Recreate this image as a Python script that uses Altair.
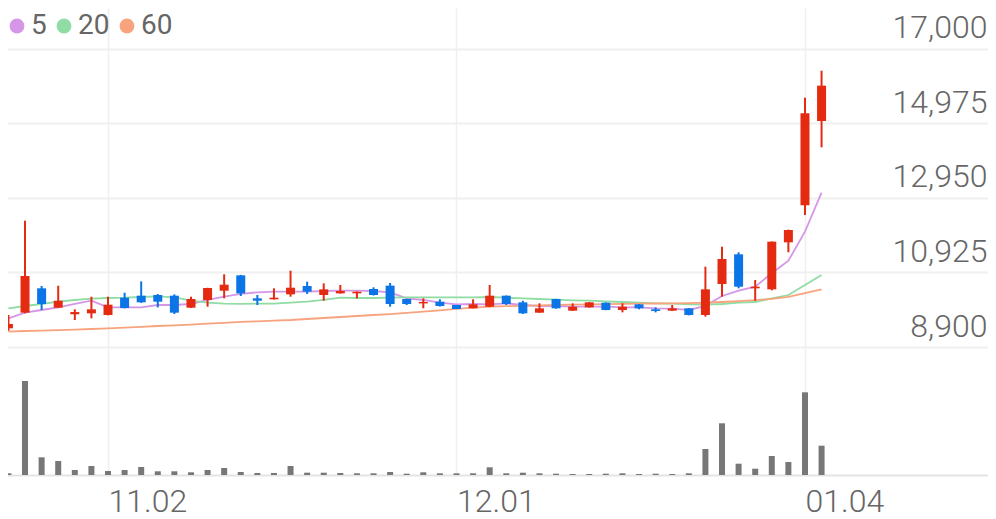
import altair as alt
import pandas as pd

# ---- data ----
idx = list(range(50))
opens = [9408, 9833, 10495, 9968, 9790, 9815, 9770, 10240, 10295, 10313,
         10295, 9968, 10178, 10430, 10848, 10223, 10196, 10331, 10558, 10313,
         10358, 10358, 10476, 10567, 10205, 10085, 10132, 10042, 9951, 9995,
         10295, 10114, 9833, 10205, 9887, 9978, 10105, 9906, 10060, 9924,
         9887, 9951, 9770, 10612, 11419, 10495, 10467, 11745, 12751, 15043]
highs = [9770, 12333, 10558, 10566, 9924, 10267, 10267, 10376, 10683, 10340,
         10331, 10267, 10510, 10876, 10860, 10313, 10495, 10974, 10675, 10630,
         10585, 10410, 10522, 10640, 10210, 10223, 10196, 10045, 10196, 10585,
         10300, 10158, 10087, 10210, 10087, 10120, 10110, 10087, 10065, 9978,
         10042, 9960, 11083, 11626, 11474, 10721, 11770, 12090, 15676, 16410]
lows = [9343, 9815, 9906, 9960, 9634, 9680, 9760, 9950, 10100, 9976,
        9797, 9960, 9995, 10223, 10286, 10042, 10190, 10267, 10340, 10158,
        10350, 10223, 10300, 9995, 10042, 9951, 10000, 9930, 9951, 9980,
        10042, 9797, 9830, 9940, 9880, 9970, 9900, 9842, 9924, 9842,
        9880, 9760, 9724, 10267, 10495, 10158, 10440, 11474, 12488, 14326]
closes = [9525, 10830, 10069, 10158, 9850, 9924, 10050, 9960, 10114, 10132,
          9833, 10205, 10504, 10594, 10358, 10158, 10240, 10512, 10404, 10467,
          10422, 10404, 10313, 10069, 10069, 10125, 10014, 9933, 10060, 10295,
          10069, 9815, 9951, 9951, 9995, 10114, 9906, 9995, 9951, 9878,
          9951, 9770, 10467, 11292, 10539, 10539, 11763, 12080, 15250, 16003]
volumes = [34000, 1880000, 354000, 280000, 100000, 180000, 80000, 100000, 160000, 74000,
           74000, 54000, 100000, 140000, 60000, 40000, 40000, 180000, 46000, 46000,
           40000, 34000, 34000, 60000, 26000, 54000, 34000, 34000, 34000, 154000,
           34000, 46000, 34000, 26000, 20000, 20000, 26000, 34000, 20000, 26000,
           20000, 34000, 520000, 1034000, 226000, 126000, 380000, 260000, 1654000, 586000]
ma5 = [9680, 9833, 9906, 9978, 10069, 10158, 9978, 9978, 9978, 10042,
       10042, 10069, 10178, 10267, 10345, 10385, 10404, 10404, 10404, 10422,
       10431, 10431, 10422, 10385, 10223, 10178, 10105, 10060, 10069, 10060,
       10087, 10042, 10014, 10014, 9995, 9995, 9995, 9978, 9978, 9951,
       9942, 9906, 10020, 10286, 10431, 10539, 10903, 11246, 12034, 13094]
ma20 = [9951, 10014, 10069, 10132, 10178, 10214, 10232, 10240, 10259, 10277,
        10250, 10158, 10105, 10078, 10070, 10078, 10078, 10105, 10132, 10178,
        10240, 10232, 10232, 10240, 10250, 10250, 10250, 10250, 10250, 10259,
        10240, 10223, 10205, 10187, 10169, 10160, 10141, 10123, 10105, 10087,
        10078, 10060, 10050, 10069, 10105, 10123, 10223, 10313, 10585, 10857]
ma60 = [9316, 9335, 9346, 9357, 9370, 9389, 9408, 9427, 9446, 9471,
        9490, 9509, 9533, 9558, 9582, 9599, 9618, 9634, 9661, 9688,
        9715, 9743, 9770, 9794, 9827, 9862, 9898, 9938, 9971, 9995,
        10009, 10020, 10031, 10042, 10050, 10058, 10066, 10071, 10077, 10082,
        10088, 10093, 10107, 10123, 10145, 10172, 10210, 10264, 10362, 10468]
ma_names = ["5", "20", "60"]
ma_colors = ["#d596e8", "#8fdca4", "#f7a47e"]
price_ticks = [8900, 10925, 12950, 14975, 17000]
x_tick_idx = [6, 27, 48]
x_tick_labels = ["11.02", "12.01", "01.04"]

# ---- tables ----
df = pd.DataFrame({"i": idx, "o": opens, "h": highs, "l": lows, "c": closes, "v": volumes})
ma = pd.DataFrame({
    "i": idx * 3,
    "s": [ma_names[0]] * 50 + [ma_names[1]] * 50 + [ma_names[2]] * 50,
    "val": ma5 + ma20 + ma60,
})

RED = "#e42b12"
BLUE = "#0b74e6"
GRAY_TXT = "#666666"
FONT = "Roboto"

label_expr = " : ".join(f"datum.value == {v} ? '{t}'" for v, t in zip(x_tick_idx, x_tick_labels)) + " : ''"

xs = alt.Scale(domain=[-0.267, 59.27], nice=False, zero=False, padding=0)
x_axis = alt.Axis(values=x_tick_idx, labelExpr=label_expr, grid=True, gridColor="#efefef",
                  gridWidth=1.5, domain=True, domainColor="#e4e4e4", domainWidth=2,
                  ticks=False, tickSize=0, labelFont=FONT, labelFontSize=32,
                  labelFontWeight=300, labelColor=GRAY_TXT, labelAlign="left",
                  labelBaseline="alphabetic", labelPadding=36, labelFlush=False,
                  labelOverlap=False, title=None)
ys = alt.Scale(domain=[5421, 18114], nice=False, zero=False)
y_axis = alt.Axis(orient="right", values=price_ticks, format=",d", grid=True,
                  gridColor="#f0f0f0", gridWidth=2, domain=False, ticks=False, tickSize=0,
                  labelAlign="right", labelBaseline="alphabetic", labelPadding=-5,
                  labelOffset=-11, labelFont=FONT, labelFontSize=32, labelFontWeight=300,
                  labelColor=GRAY_TXT, labelFlush=False, labelOverlap=False, title=None)

X = alt.X("i:Q", scale=xs, axis=x_axis)
Y_PRICE = alt.Y("val:Q", scale=ys, axis=y_axis)
candle_color = alt.condition("datum.o <= datum.c", alt.value(RED), alt.value(BLUE))
ma_scale = alt.Scale(domain=ma_names, range=ma_colors)

# one line per moving average, coloured directly
ma_lines = [
    alt.Chart(ma).transform_filter(alt.datum.s == name)
    .mark_line(strokeWidth=1.8, color=col)
    .encode(x=X, y=Y_PRICE, order="i:Q")
    for name, col in zip(ma_names, ma_colors)
]

# invisible points that carry the legend
legend_pts = alt.Chart(ma).mark_circle(opacity=0).encode(
    x=X,
    y=Y_PRICE,
    fill=alt.Fill("s:N", sort=ma_names, scale=ma_scale,
                  legend=alt.Legend(orient="none", legendX=-1, legendY=4,
                                    direction="horizontal", title=None,
                                    symbolType="circle", symbolSize=220,
                                    symbolOpacity=1, symbolStrokeWidth=0,
                                    labelFontSize=28, labelFont=FONT,
                                    labelFontWeight=400,
                                    labelColor=GRAY_TXT, labelOffset=0,
                                    columnPadding=3, gridAlign="none",
                                    padding=0)),
)

wicks = alt.Chart(df).mark_rule(strokeWidth=2).encode(
    x=X,
    y=alt.Y("l:Q", scale=ys, axis=y_axis),
    y2="h:Q",
    color=candle_color,
)

bodies = alt.Chart(df).mark_bar(size=9).encode(
    x=X,
    y=alt.Y("o:Q", scale=ys, axis=y_axis),
    y2="c:Q",
    color=candle_color,
)

vol = alt.Chart(df).mark_bar(size=6, color="#777777").encode(
    x=X,
    y=alt.Y("v:Q", scale=alt.Scale(domain=[0, 9340000], nice=False), axis=None),
)

price = alt.layer(*ma_lines, legend_pts, wicks, bodies)
chart = alt.layer(price, vol).resolve_scale(y="independent").properties(
    width=988, height=467,
    padding={"left": -4, "right": -4, "top": 0, "bottom": 44},
    autosize=alt.AutoSizeParams(type="none"),
).configure_view(stroke=None)

chart.save("out.html", embed_options={"renderer": "svg", "actions": False})
